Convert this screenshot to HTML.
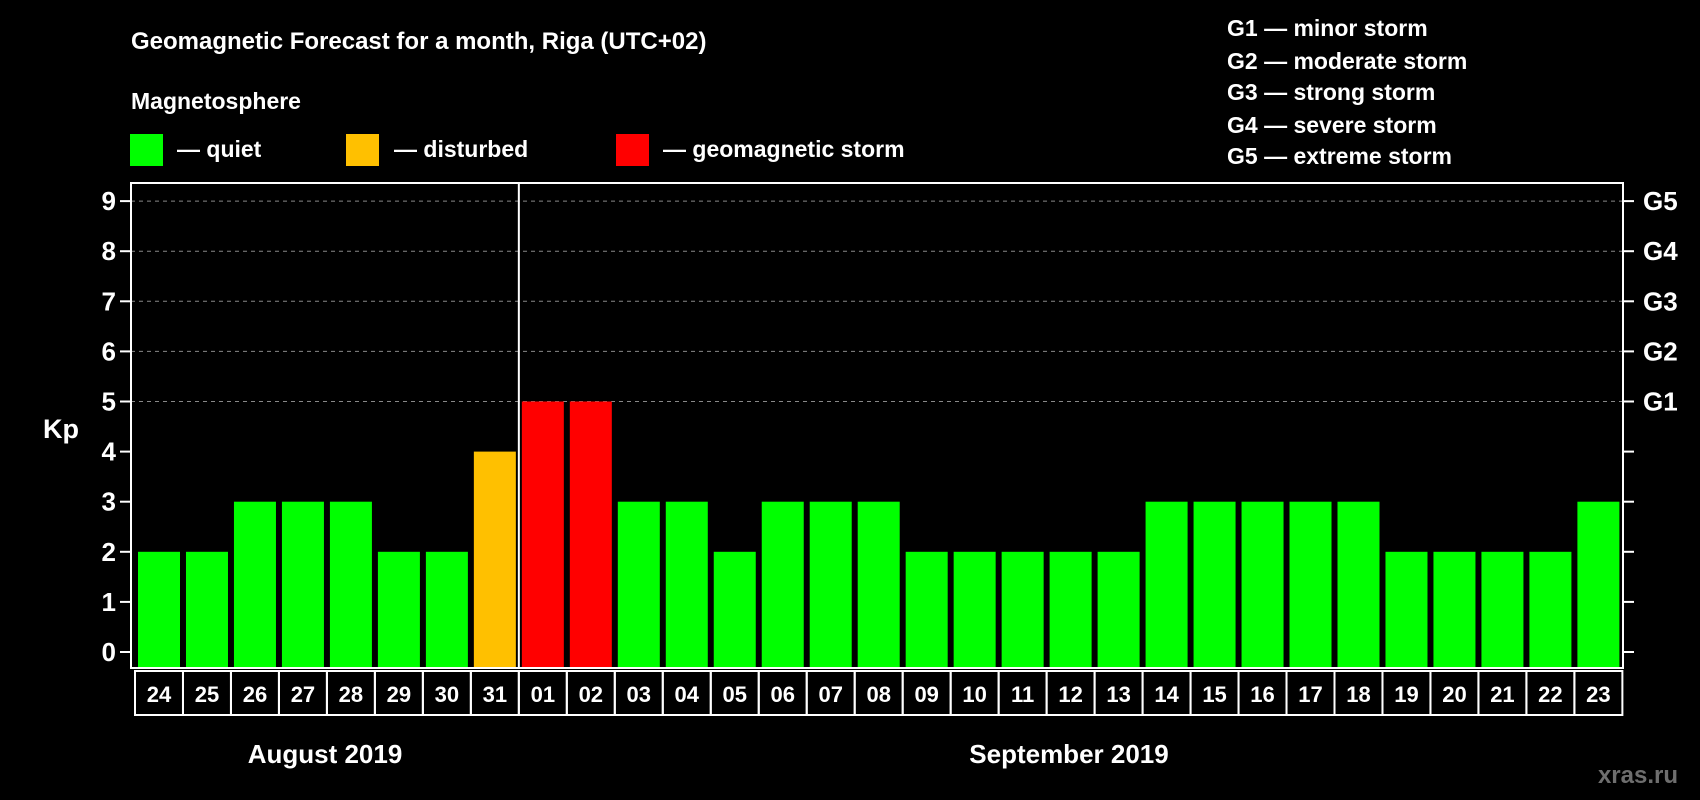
<!DOCTYPE html>
<html><head><meta charset="utf-8"><style>
html,body{margin:0;padding:0;background:#000;width:1700px;height:800px;overflow:hidden}
svg text{font-family:"Liberation Sans",Arial,sans-serif;font-weight:bold;fill:#fff}
</style></head><body>
<svg id="chart" width="1700" height="800" xmlns="http://www.w3.org/2000/svg">
<text x="131" y="49" font-size="24">Geomagnetic Forecast for a month, Riga (UTC+02)</text>
<text x="131" y="109" font-size="23">Magnetosphere</text>
<g><rect x="130" y="134" width="33" height="32" fill="#00ff00"/><text x="177" y="157" font-size="23">— quiet</text></g>
<g><rect x="346" y="134" width="33" height="32" fill="#ffc000"/><text x="394" y="157" font-size="23">— disturbed</text></g>
<g><rect x="616" y="134" width="33" height="32" fill="#ff0000"/><text x="663" y="157" font-size="23">— geomagnetic storm</text></g>
<g font-size="23">
<text x="1227" y="36">G1 — minor storm</text>
<text x="1227" y="69">G2 — moderate storm</text>
<text x="1227" y="100">G3 — strong storm</text>
<text x="1227" y="133">G4 — severe storm</text>
<text x="1227" y="164">G5 — extreme storm</text>
</g>
<text x="43" y="438" font-size="27">Kp</text>
<g id="grid"></g><g id="bars"></g><g id="axes"></g>
<text x="325" y="763" font-size="26" text-anchor="middle">August 2019</text>
<text x="1069" y="763" font-size="26" text-anchor="middle">September 2019</text>
<text x="1678" y="783" font-size="24" text-anchor="end" style="fill:#6e6e6e">xras.ru</text>
</svg>
<script>
const days=["24","25","26","27","28","29","30","31","01","02","03","04","05","06","07","08","09","10","11","12","13","14","15","16","17","18","19","20","21","22","23"];
const kpValues=[2,2,3,3,3,2,2,4,5,5,3,3,2,3,3,3,2,2,2,2,2,3,3,3,3,3,2,2,2,2,3];
const yTicks=[0,1,2,3,4,5,6,7,8,9];
const gLabels=["G1","G2","G3","G4","G5"];
const NS="http://www.w3.org/2000/svg";
const L=131,R=1623,T=183,B=668,x0=138,step=47.98,bw=42;
const y=v=>652-v*50.1;
const x=i=>x0+i*step;
function mk(tag,attrs,parent){const e=document.createElementNS(NS,tag);for(const k in attrs)e.setAttribute(k,attrs[k]);parent.appendChild(e);return e;}
const grid=document.getElementById('grid'),bars=document.getElementById('bars'),axes=document.getElementById('axes');
yTicks.forEach(v=>{
 if(v>=5){const g=mk('line',{x1:L,x2:R,y1:y(v),y2:y(v),stroke:'#888','stroke-dasharray':'4,4','stroke-width':1},grid);
 
 }
 const t=mk('line',{x1:L-11,x2:L,y1:y(v),y2:y(v),stroke:'#fff','stroke-width':2},axes);
 
 
 const t2=mk('line',{x1:R,x2:R+11,y1:y(v),y2:y(v),stroke:'#fff','stroke-width':2},axes);
 
 
 const lb=mk('text',{x:116,y:y(v)+9,'font-size':26,'text-anchor':'end'},axes);lb.textContent=v;
 
 
});
gLabels.forEach((g,i)=>{const lb=mk('text',{x:1643,y:y(5+i)+9,'font-size':26},axes);lb.textContent=g;
 
 });
kpValues.forEach((v,i)=>{
 const c=v>=5?'#ff0000':(v>=4?'#ffc000':'#00ff00');
 const r=mk('rect',{x:x(i),y:y(v),width:bw,height:B-y(v)-1,fill:c},bars);
 
 
 const bx=mk('rect',{x:x(i)-3,y:671,width:step,height:44,fill:'none',stroke:'#fff','stroke-width':2},axes);
 
 
 const t=mk('text',{x:x(i)+bw/2,y:702,'font-size':22,'text-anchor':'middle'},axes);t.textContent=days[i];
 
 
});
const fr=mk('rect',{x:L,y:T,width:R-L,height:B-T,fill:'none',stroke:'#fff','stroke-width':2},axes);


const dv=mk('line',{x1:x(8)-3,x2:x(8)-3,y1:T,y2:B,stroke:'#fff','stroke-width':2},axes);


</script>
</body></html>
